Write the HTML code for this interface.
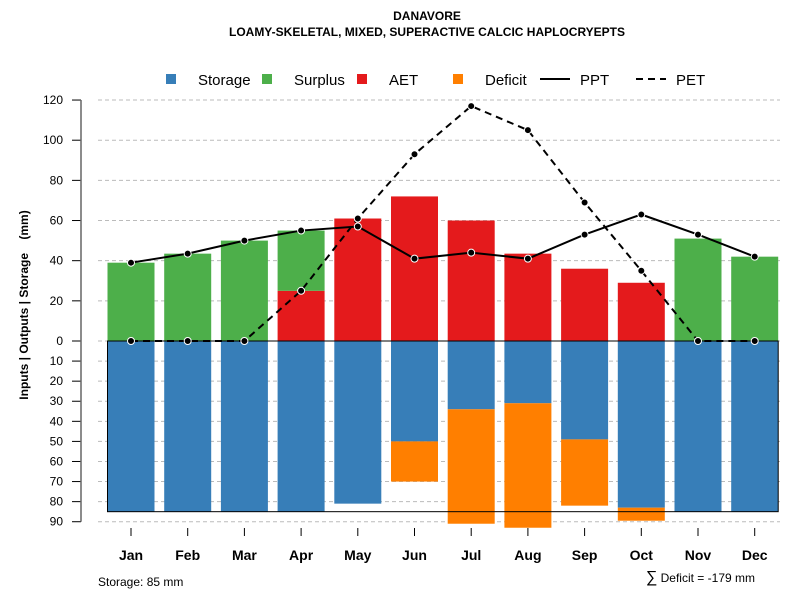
<!DOCTYPE html>
<html><head><meta charset="utf-8"><style>
body{margin:0;background:#fff;}
svg{display:block;font-family:"Liberation Sans",sans-serif;}
</style></head><body>
<svg id="chart" width="800" height="600" viewBox="0 0 800 600">
<text x="427" y="20" text-anchor="middle" font-size="12" font-weight="bold">DANAVORE</text>
<text x="427" y="36" text-anchor="middle" font-size="12" font-weight="bold">LOAMY-SKELETAL, MIXED, SUPERACTIVE CALCIC HAPLOCRYEPTS</text>
<g id="grid"></g>
<g id="bars"></g>
<g id="lines"></g>
<g id="axes"></g>
<g font-size="15">
<rect x="166" y="74" width="10" height="10" fill="#377EB8"/>
<text x="198" y="85">Storage</text>
<rect x="262" y="74" width="10" height="10" fill="#4DAF4A"/>
<text x="294" y="85">Surplus</text>
<rect x="357" y="74" width="10" height="10" fill="#E41A1C"/>
<text x="389" y="85">AET</text>
<rect x="453" y="74" width="10" height="10" fill="#FF7F00"/>
<text x="485" y="85">Deficit</text>
<line x1="540" y1="79" x2="570" y2="79" stroke="#000" stroke-width="2"/>
<text x="580" y="85">PPT</text>
<line x1="636" y1="79" x2="666" y2="79" stroke="#000" stroke-width="2" stroke-dasharray="7,5"/>
<text x="676" y="85">PET</text>
</g>
<text transform="translate(28,305) rotate(-90)" text-anchor="middle" font-size="12" font-weight="bold" style="white-space:pre">Inputs | Outputs | Storage    (mm)</text>
<text x="98" y="586" font-size="12">Storage: 85 mm</text>
<text x="755" y="582" text-anchor="end" font-size="12"><tspan font-size="16">∑</tspan> Deficit = -179 mm</text>
</svg>
<script>
const months=["Jan","Feb","Mar","Apr","May","Jun","Jul","Aug","Sep","Oct","Nov","Dec"];
const ppt=[39,43.5,50,55,57,41,44,41,53,63,53,42];
const pet=[0,0,0,25,61,93,117,105,69,35,0,0];
const aet=[0,0,0,25,61,72,60,43.5,36,29,0,0];
const surplus=[39,43.5,50,30,0,0,0,0,0,0,51,42];
const storage=[85,85,85,85,81,50,34,31,49,83,85,85];
const deficit=[0,0,0,0,0,20,57,62,33,6.5,0,0];
const upTicks=[0,20,40,60,80,100,120];
const downTicks=[10,20,30,40,50,60,70,80,90];
const capacity=85;
const NS="http://www.w3.org/2000/svg";
const y0=341, pxU=2.008;
function yUp(v){return y0-v*pxU;}
function yDn(v){return y0+v*pxU;}
function xC(i){return 131+i*56.7;}
const bw=47;
function mk(tag,attrs,parent){const e=document.createElementNS(NS,tag);for(const k in attrs)e.setAttribute(k,attrs[k]);document.getElementById(parent).appendChild(e);return e;}
upTicks.forEach(t=>{
 const g=mk("line",{x1:98,x2:780,y1:yUp(t),y2:yUp(t),stroke:"#bbb","stroke-dasharray":"4,3"},"grid");
 
 
 const tk=mk("line",{x1:72,x2:81,y1:yUp(t),y2:yUp(t),stroke:"#000"},"axes");
 
 
 const tx=mk("text",{x:63,y:yUp(t)+4,"text-anchor":"end","font-size":12},"axes");tx.textContent=t;
 
 
});
downTicks.forEach(t=>{
 const g=mk("line",{x1:98,x2:780,y1:yDn(t),y2:yDn(t),stroke:"#bbb","stroke-dasharray":"4,3"},"grid");
 
 
 const tk=mk("line",{x1:72,x2:81,y1:yDn(t),y2:yDn(t),stroke:"#000"},"axes");
 
 
 const tx=mk("text",{x:63,y:yDn(t)+4,"text-anchor":"end","font-size":12},"axes");tx.textContent=t;
 
 
});
const ax=mk("line",{x1:81,x2:81,y1:yUp(120),y2:yDn(90),stroke:"#666","stroke-width":1.5},"axes");


months.forEach((m,i)=>{
 const x=xC(i)-bw/2;
 const s=mk("rect",{x:x,y:y0,width:bw,height:storage[i]*pxU,fill:"#377EB8"},"bars");
 
 
 if(deficit[i]>0){
  const d=mk("rect",{x:x,y:yDn(storage[i]),width:bw,height:deficit[i]*pxU,fill:"#FF7F00"},"bars");
  
  
 }
 if(aet[i]>0){
  const a=mk("rect",{x:x,y:yUp(aet[i]),width:bw,height:aet[i]*pxU,fill:"#E41A1C"},"bars");
  
  
 }
 if(surplus[i]>0){
  const s2=mk("rect",{x:x,y:yUp(aet[i]+surplus[i]),width:bw,height:surplus[i]*pxU,fill:"#4DAF4A"},"bars");
  
  
 }
 const tk=mk("line",{x1:xC(i),x2:xC(i),y1:528,y2:536,stroke:"#000"},"axes");
 
 
 const tx=mk("text",{x:xC(i),y:560,"text-anchor":"middle","font-size":14,"font-weight":"bold"},"axes");tx.textContent=m;
 
 
});
const box=mk("rect",{x:xC(0)-bw/2,y:y0,width:xC(11)+bw/2-(xC(0)-bw/2),height:capacity*pxU,fill:"none",stroke:"#000","stroke-width":1},"bars");


function line(vals,dash,name){
 const p=mk("polyline",{points:vals.map((v,i)=>xC(i)+","+yUp(v)).join(" "),fill:"none",stroke:"#000","stroke-width":2,"stroke-dasharray":dash},"lines");
 
 
 vals.forEach((v,i)=>{
  const c=mk("circle",{cx:xC(i),cy:yUp(v),r:3.5,fill:"#000",stroke:"#fff","stroke-width":1},"lines");
  
  
 });
}
line(pet,"7,5","pet");
line(ppt,"none","ppt");
</script>
</body></html>
